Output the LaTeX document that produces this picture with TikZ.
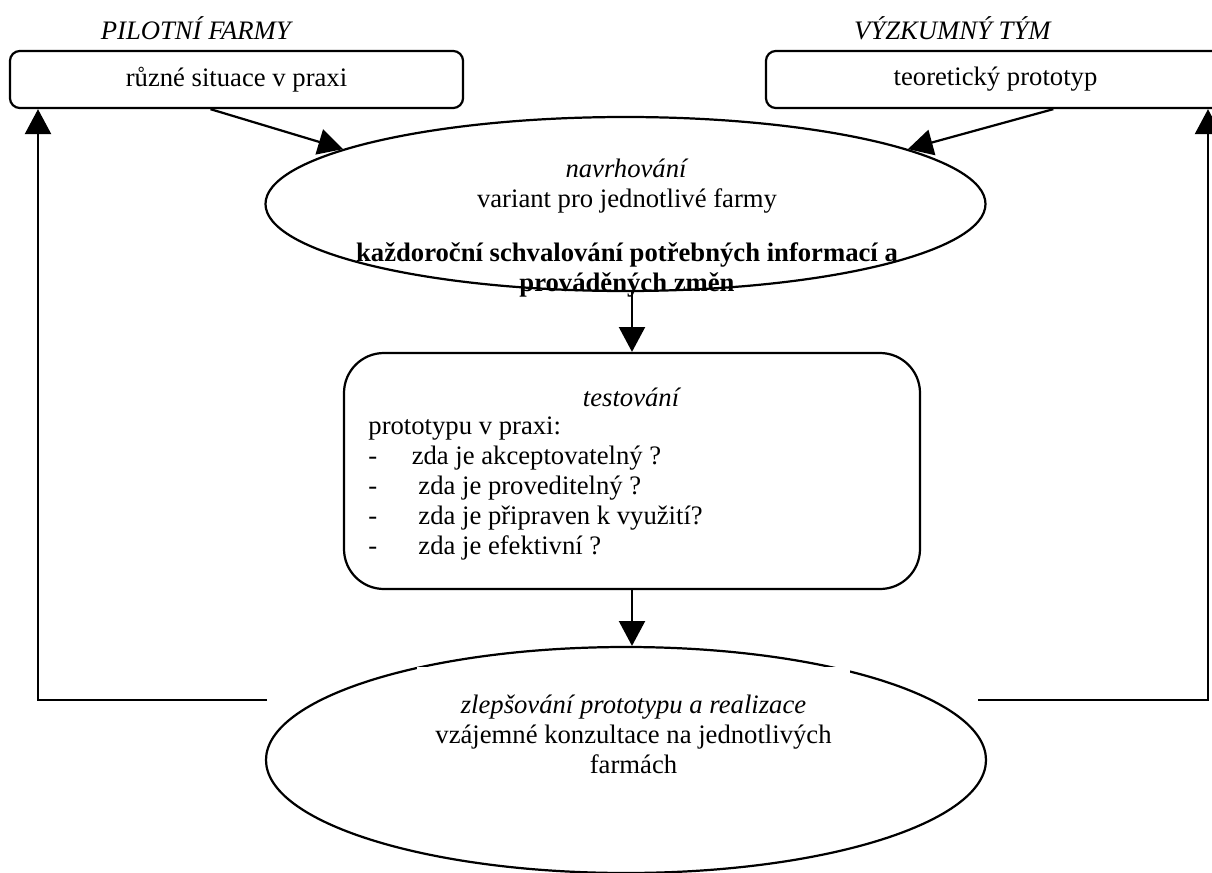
\documentclass[tikz,border=0pt]{standalone}
\usepackage{fontspec}
\setmainfont{Liberation Serif}
\usetikzlibrary{shapes.geometric,arrows.meta,calc,positioning}

\begin{document}
\begin{tikzpicture}[x = 0.45pt, y = -0.45pt]
	\tikzstyle{every node} = [font = \fontsize{12}{13.5}\selectfont, inner sep = 0pt]
	\tikzstyle{box} = [draw = black, line width = 1pt, rounded corners = 4.5pt]
	\tikzstyle{oval} = [ellipse, draw = black, line width = 1pt]
	\tikzstyle{arr} = [line width = 1pt, -{Triangle[length = 11.2pt, width = 11.7pt]}]
	\useasboundingbox (0, 0) rectangle (1212, 873);

\node (l0) at (197, 28) {\textit{PILOTNÍ FARMY}};
\node (l1) at (953, 28) {\textit{VÝZKUMNÝ TÝM}};

\node[box, minimum width = 203.9pt, minimum height = 25.7pt] (0) at (236.5, 79.5) {různé situace v praxi};
\node[box, minimum width = 206.6pt, minimum height = 25.7pt] (1) at (995.5, 79.5) {teoretický prototyp};

\node[oval, minimum width = 324pt, minimum height = 78.3pt] (2) at (625.5, 204) {};
\node[align = center] (t2) at (627, 228) {\textit{navrhování}\\variant pro jednotlivé farmy\\[10.5pt]
	\textbf{každoroční schvalování potřebných informací a}\\\textbf{prováděných změn}};

\node[box, rounded corners = 18pt, minimum width = 259.2pt, minimum height = 106.2pt] (3) at (632, 471) {};
\node (t3) at (632, 397) {\textit{testování}};
\node[align = left, anchor = west] (t3b) at (368, 489) {prototypu v praxi:\\
	\makebox[19.5pt][l]{-}zda je akceptovatelný ?\\
	\makebox[19.5pt][l]{-}\ zda je proveditelný ?\\
	\makebox[19.5pt][l]{-}\ zda je připraven k využití?\\
	\makebox[19.5pt][l]{-}\ zda je efektivní ?};

\node[oval, minimum width = 324pt, minimum height = 101.7pt] (4) at (626, 760) {};
\node[fill = white, minimum width = 194.9pt, align = center, anchor = north, inner ysep = 12.5pt] (t4) at (633.5, 667)
	{\textit{zlepšování prototypu a realizace}\\vzájemné konzultace na jednotlivých\\farmách};

\coordinate (a) at (267, 700);
\coordinate (b) at (38, 700);
\coordinate (c) at (978, 700);
\coordinate (d) at (1208, 700);

	\path[draw, arr] ([xshift = -11.7pt]0.south) -- (2.169);
	\path[draw, arr] ([xshift = 26pt]1.south) -- (2.11);
	\path[draw, arr] (3.north |- 2.south) -- (3.north);
	\path[draw, arr] (3.south) -- (3.south |- 4.north);
	\path[draw, arr] (a) -- (b) -- (b |- 0.south);
	\path[draw, arr] (c) -- (d) -- (d |- 1.south);
	\end{tikzpicture}
\end{document}
